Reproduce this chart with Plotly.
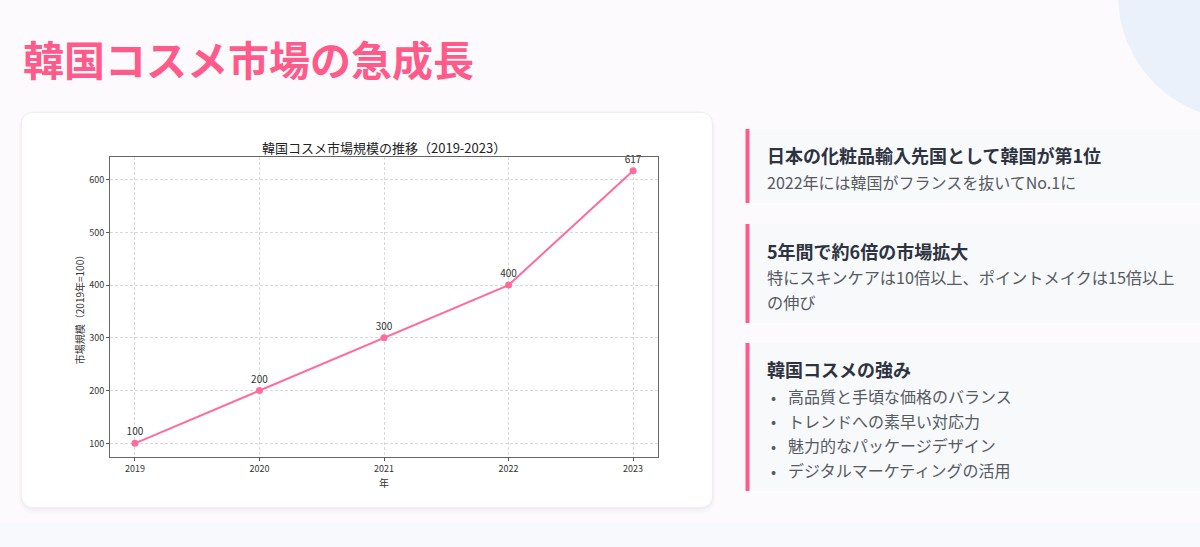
import plotly.graph_objects as go

W, H = 1200, 547
JP = "Noto Sans CJK JP"

# chart data
years = [2019, 2020, 2021, 2022, 2023]
market_index = [100, 200, 300, 400, 617]
point_labels = ["100", "200", "300", "400", "617"]
y_ticks = [100, 200, 300, 400, 500, 600]

page_title = "韓国コスメ市場の急成長"
chart_title = "韓国コスメ市場規模の推移（2019-2023）"
x_title = "年"
y_title = "市場規模（2019年=100）"

card1_head = "日本の化粧品輸入先国として韓国が第1位"
card1_lines = ["2022年には韓国がフランスを抜いてNo.1に"]
card2_head = "5年間で約6倍の市場拡大"
card2_lines = ["特にスキンケアは10倍以上、ポイントメイクは15倍以上", "の伸び"]
card3_head = "韓国コスメの強み"
card3_bullets = ["高品質と手頃な価格のバランス", "トレンドへの素早い対応力",
                 "魅力的なパッケージデザイン", "デジタルマーケティングの活用"]

PINK = "#ff5a8a"
LINE_PINK = "#ff6b9d"


def px(x):
    return x / W


def py(y):
    return 1 - y / H


def round_rect(x0, y0, x1, y1, r):
    # rounded rectangle path in paper coords, from pixel box
    pts = [
        f"M {px(x0 + r)} {py(y0)}",
        f"L {px(x1 - r)} {py(y0)}",
        f"Q {px(x1)} {py(y0)} {px(x1)} {py(y0 + r)}",
        f"L {px(x1)} {py(y1 - r)}",
        f"Q {px(x1)} {py(y1)} {px(x1 - r)} {py(y1)}",
        f"L {px(x0 + r)} {py(y1)}",
        f"Q {px(x0)} {py(y1)} {px(x0)} {py(y1 - r)}",
        f"L {px(x0)} {py(y0 + r)}",
        f"Q {px(x0)} {py(y0)} {px(x0 + r)} {py(y0)}",
        "Z",
    ]
    return " ".join(pts)


fig = go.Figure()

fig.add_trace(go.Scatter(
    x=years, y=market_index,
    mode="lines+markers+text",
    text=point_labels,
    textposition="top center",
    textfont=dict(family=JP, size=10, color="#333333"),
    line=dict(color=LINE_PINK, width=2),
    marker=dict(color=LINE_PINK, size=7),
    cliponaxis=False,
    showlegend=False,
    hoverinfo="x+y",
))

shapes = []
# light background bottom band
shapes.append(dict(type="rect", xref="paper", yref="paper",
                   x0=0, x1=1, y0=0, y1=py(522), fillcolor="#f8f9fc",
                   line=dict(width=0), layer="below"))
# top-right circle
shapes.append(dict(type="circle", xref="paper", yref="paper",
                   x0=px(1118), x1=px(1368), y0=py(120), y1=py(-130),
                   fillcolor="#eaf1fb", line=dict(width=0), layer="below"))
# soft card shadow + card
for off, col in [(7, "#f8f6f9"), (4, "#f4f2f6"), (2, "#f0eef3")]:
    shapes.append(dict(type="path", xref="paper", yref="paper",
                       path=round_rect(22 - off / 2, 113 - off / 3, 712 + off / 2, 507 + off, 12 + off),
                       fillcolor=col, line=dict(width=0), layer="below"))
shapes.append(dict(type="path", xref="paper", yref="paper",
                   path=round_rect(22, 113, 712, 507, 12),
                   fillcolor="#ffffff", line=dict(width=0), layer="below"))

# right side info cards
cards = [(129, 203), (224, 323), (343, 491)]
for top, bottom in cards:
    shapes.append(dict(type="rect", xref="paper", yref="paper",
                       x0=px(749), x1=1, y0=py(bottom), y1=py(top),
                       fillcolor="#f8f9fb", line=dict(width=0), layer="below"))
    shapes.append(dict(type="rect", xref="paper", yref="paper",
                       x0=px(745.5), x1=px(749.5), y0=py(bottom), y1=py(top),
                       fillcolor=PINK, line=dict(width=0), layer="below"))

annotations = []


def text_at(x, y, s, size, color, bold=False, anchor="left"):
    annotations.append(dict(
        x=px(x), y=py(y), xref="paper", yref="paper",
        text=f"<b>{s}</b>" if bold else s, showarrow=False,
        xanchor=anchor, yanchor="middle",
        font=dict(family=JP, size=size, color=color),
    ))


text_at(21, 58, page_title, 41, PINK, bold=True)
text_at(384, 147, chart_title, 13, "#222222", anchor="center")
text_at(384, 482, x_title, 10, "#333333", anchor="center")

HEAD = "#2d3340"
SUB = "#555a63"
text_at(765, 155, card1_head, 18, HEAD, bold=True)
text_at(765, 182, card1_lines[0], 16, SUB)
text_at(765, 251, card2_head, 18, HEAD, bold=True)
for i, line in enumerate(card2_lines):
    text_at(765, 277 + i * 25, line, 16.2, SUB)
text_at(765, 369, card3_head, 18, HEAD, bold=True)
for i, item in enumerate(card3_bullets):
    yy = 396 + i * 24.7
    text_at(773, yy, "•", 15, SUB, anchor="center")
    text_at(786, yy, item, 16, SUB)

axis_common = dict(
    tickfont=dict(family=JP, size=9, color="#333333"),
    ticks="outside", ticklen=3, tickcolor="#555555",
    showgrid=True, gridcolor="#dadada", griddash="3px,2px", gridwidth=0.8,
    showline=True, linecolor="#666666", linewidth=1, mirror=True,
    zeroline=False,
)

fig.update_layout(
    width=W, height=H,
    margin=dict(l=0, r=0, t=0, b=0),
    paper_bgcolor="#fcfafc",
    plot_bgcolor="#ffffff",
    shapes=shapes,
    annotations=annotations,
    xaxis=dict(
        domain=[px(110), px(658)],
        range=[2018.8, 2023.2],
        tickvals=years,
        ticktext=[str(y) for y in years],
        **axis_common,
    ),
    yaxis=dict(
        domain=[py(457), py(157)],
        range=[74.15, 642.85],
        tickvals=y_ticks,
        title=dict(text=y_title, font=dict(family=JP, size=10, color="#333333"), standoff=2),
        **axis_common,
    ),
)

fig.write_html("out.html", config={"displayModeBar": False},
               post_script="document.body.style.margin='0';")
